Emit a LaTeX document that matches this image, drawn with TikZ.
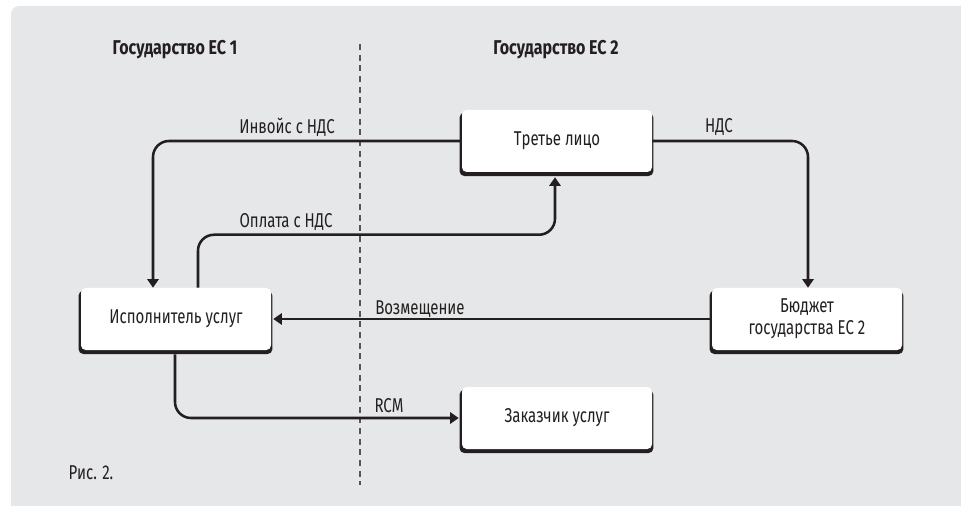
\documentclass[tikz,border=0pt]{standalone}
\usepackage{fontspec}
\setmainfont[FakeStretch=0.75]{Fira Sans}
\newfontfamily\headfont[FakeStretch=0.8]{Fira Sans}
\usetikzlibrary{arrows.meta,shadows,calc}
\definecolor{ink}{HTML}{231F20}
\definecolor{panel}{HTML}{E6E7E8}
\definecolor{divider}{HTML}{555555}

\begin{document}
\begin{tikzpicture}[x=0.75pt,y=-0.75pt,
  box/.style={fill=white, rounded corners=3.5pt,
    minimum width=142.5pt, minimum height=46.5pt, align=center,
    inner sep=2pt, text=ink, font=\fontsize{15}{16.5}\selectfont,
    drop shadow={fill=ink, opacity=1, shadow xshift=-0.4pt,
      shadow yshift=-2.5pt, shadow scale=1.02}},
  flow/.style={draw=ink, line width=1.9pt, rounded corners=12pt,
    -{Triangle[length=6.5pt,width=8.5pt]}},
  lbl/.style={inner sep=0pt, text=ink, font=\fontsize{15}{16.5}\selectfont},
  head/.style={inner sep=0pt, text=ink, font=\headfont\fontsize{15}{16.5}\selectfont\bfseries},
  sep/.style={draw=divider, line width=0.9pt, dash pattern=on 4.5pt off 3.5pt}]

% page and grey panel
\useasboundingbox (0,0) rectangle (961,506);
\fill[white] (0,0) rectangle (961,506);
\fill[panel] (11,506) [rounded corners=6] -- (11,6) [sharp corners] -- (961,6) -- (961,506) -- cycle;

% border between the two states
\coordinate (divtop) at (360,44);
\coordinate (divbot) at (360,485);
\draw[sep] (divtop) -- (divbot);

% headings
\node[head] (st1) at (175,50) {Государство ЕС 1};
\node[head] (st2) at (556,50) {Государство ЕС 2};

% parties
\node[box] (tp)  at (557,141) {Третье лицо};
\node[box] (isp) at (176,319) {Исполнитель услуг};
\node[box] (bud) at (807,319) {Бюджет\\государства ЕС 2};
\node[box] (zak) at (557,418) {Заказчик услуг};

% flows
\draw[flow] (tp.west) -| ($(isp.north)+(-23,0)$);
\draw[flow] ($(isp.north)+(22,0)$) -- ++(0,-53) -| ($(tp.south)+(-2,5)$);
\draw[flow] (tp.east) -| ($(bud.north)+(1,0)$);
\draw[flow] (bud.west) -- ($(isp.east)+(2,0)$);
\draw[flow] ($(isp.south)+(-1,4)$) |- ($(zak.west)+(-3,0)$);

% flow labels
\node[lbl] (linv) at (287,127) {Инвойс с НДС};
\node[lbl] (lpay) at (286,222) {Оплата с НДС};
\node[lbl] (lvat) at (719,127) {НДС};
\node[lbl] (lref) at (420,309) {Возмещение};
\node[lbl] (lrcm) at (389,406) {RCM};

% caption
\node[lbl] (cap) at (91,473) {Рис. 2.};
\end{tikzpicture}
\end{document}
